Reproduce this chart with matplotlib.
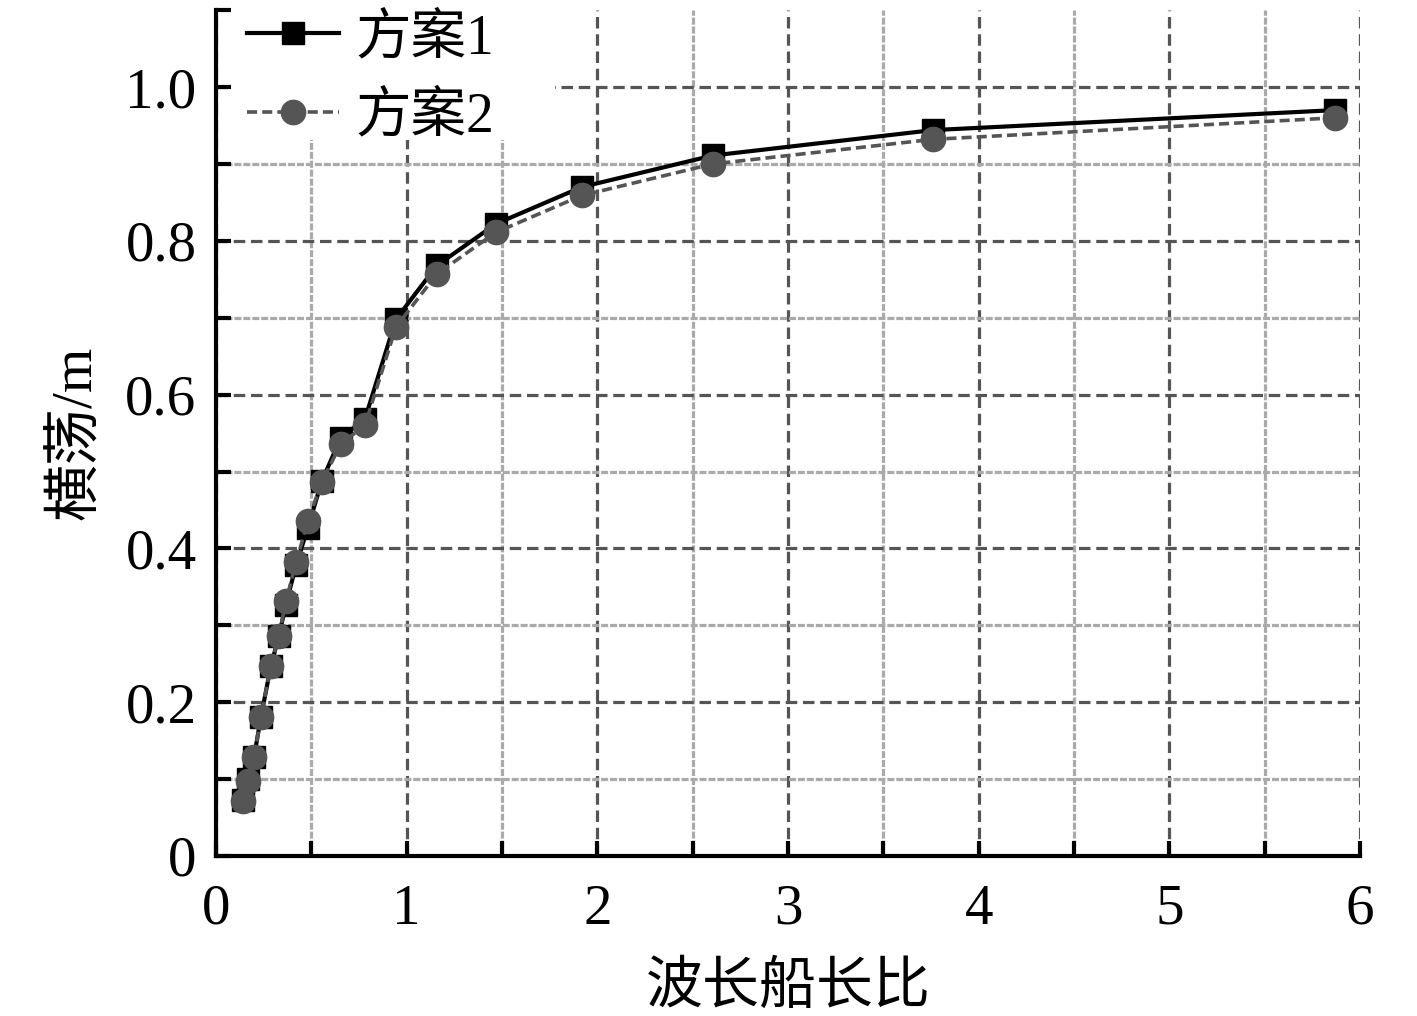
import numpy as np
import matplotlib
matplotlib.use("Agg")
import matplotlib.pyplot as plt
from matplotlib.patches import Rectangle
from matplotlib.ticker import MultipleLocator, FuncFormatter

plt.rcParams['font.family'] = ['Liberation Serif', 'Noto Sans CJK SC']

# 波长船长比
ratio = [0.142, 0.168, 0.200, 0.236, 0.288, 0.330, 0.367, 0.420, 0.482, 0.556,
         0.655, 0.781, 0.944, 1.159, 1.468, 1.919, 2.606, 3.760, 5.868]
# 横荡 (m)
sway_1 = [0.073, 0.100, 0.129, 0.181, 0.247, 0.286, 0.327, 0.378, 0.427, 0.488,
          0.544, 0.568, 0.698, 0.768, 0.822, 0.870, 0.911, 0.944, 0.970]
sway_2 = [0.072, 0.098, 0.129, 0.181, 0.247, 0.286, 0.331, 0.382, 0.435, 0.487,
          0.536, 0.560, 0.688, 0.757, 0.811, 0.859, 0.900, 0.932, 0.960]
labels = ['方案1', '方案2']

fig = plt.figure(figsize=(14.17, 10.16), dpi=100)
ax = fig.add_axes([0.1524, 0.1575, 0.8074, 0.8325])

ax.plot(ratio, sway_1, color='black', lw=3.0, marker='s', ms=16,
        label=labels[0], zorder=3)
ax.plot(ratio, sway_2, color='#555555', lw=2.6, ls=(0, (2.8, 1.4)), marker='o',
        ms=17.5, label=labels[1], zorder=4)

ax.set_xlim(0, 6)
ax.set_ylim(0, 1.1)
ax.xaxis.set_major_locator(MultipleLocator(1))
ax.xaxis.set_minor_locator(MultipleLocator(0.5))
ax.yaxis.set_major_locator(MultipleLocator(0.2))
ax.yaxis.set_minor_locator(MultipleLocator(0.1))
ax.yaxis.set_major_formatter(FuncFormatter(lambda v, p: '0' if abs(v) < 1e-9 else f'{v:.1f}'))

ax.grid(which='major', color='#555555', lw=2.3, ls=(0, (3.6, 1.8)))
ax.grid(which='minor', color='#aaaaaa', lw=2.3, ls=(0, (2.2, 0.6)))

for s in ['top', 'right']:
    ax.spines[s].set_visible(False)
for s in ['left', 'bottom']:
    ax.spines[s].set_linewidth(3)

ax.tick_params(which='both', direction='in', length=11, width=3,
               top=False, right=False, labelsize=41)
ax.tick_params(axis='x', pad=20)
ax.tick_params(axis='y', pad=14)

ax.set_xlabel('波长船长比', fontsize=41, labelpad=18)
ax.set_ylabel('横荡/m', fontsize=41, labelpad=16)

# white block behind the legend (hides the grid there, keeps the ticks)
ax.add_patch(Rectangle((0.014, 0.846), 0.282, 0.154, transform=ax.transAxes,
                       facecolor='white', edgecolor='none', zorder=2))

leg = ax.legend(loc='upper left', bbox_to_anchor=(0.025, 1.0), fontsize=40,
                frameon=False, handlelength=1.65, borderaxespad=0,
                labelspacing=0.47, handletextpad=0.3, borderpad=0.05)

fig.canvas.draw()
for t in ax.yaxis.get_minor_ticks():
    if t.get_loc() > 1.09:
        t.gridline.set_visible(False)

fig.savefig('out.png', dpi=100)
